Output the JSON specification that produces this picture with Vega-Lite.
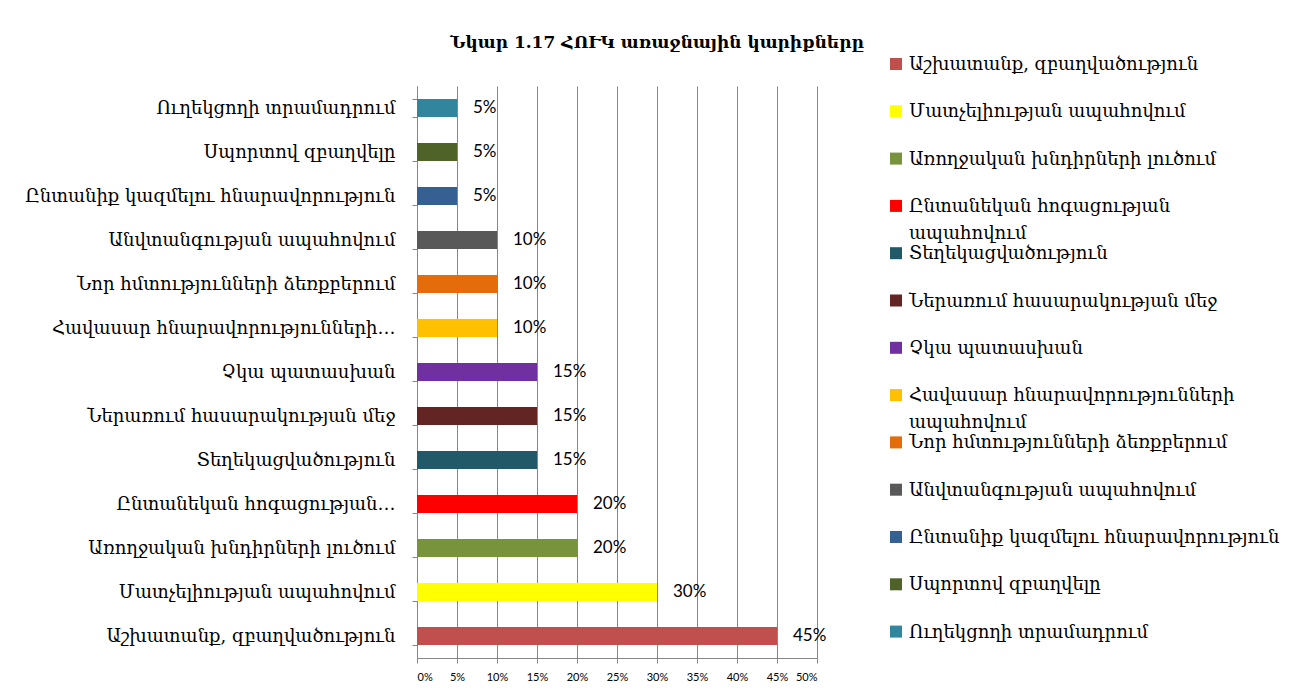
{
  "$schema": "https://vega.github.io/schema/vega-lite/v6.json",
  "autosize": "none",
  "width": 400,
  "height": 572,
  "padding": {"left": 417, "top": 86, "right": 475, "bottom": 39},
  "background": "white",
  "title": {
    "text": "Նկար 1.17 ՀՈՒԿ առաջնային կարիքները",
    "font": "DejaVu Serif",
    "fontSize": 17,
    "fontWeight": "bold",
    "color": "black",
    "anchor": "middle",
    "dx": 40,
    "offset": 3
  },
  "config": {
    "view": {"stroke": null},
    "axis": {"domainColor": "#868686", "tickColor": "#868686", "gridColor": "#868686"}
  },
  "data": {
    "values": [
      {"need": "Աշխատանք, զբաղվածություն", "value": 0.45},
      {"need": "Մատչելիության ապահովում", "value": 0.30},
      {"need": "Առողջական խնդիրների լուծում", "value": 0.20},
      {"need": "Ընտանեկան հոգացության ապահովում", "value": 0.20},
      {"need": "Տեղեկացվածություն", "value": 0.15},
      {"need": "Ներառում հասարակության մեջ", "value": 0.15},
      {"need": "Չկա պատասխան", "value": 0.15},
      {"need": "Հավասար հնարավորությունների ապահովում", "value": 0.10},
      {"need": "Նոր հմտությունների ձեռքբերում", "value": 0.10},
      {"need": "Անվտանգության ապահովում", "value": 0.10},
      {"need": "Ընտանիք կազմելու հնարավորություն", "value": 0.05},
      {"need": "Սպորտով զբաղվելը", "value": 0.05},
      {"need": "Ուղեկցողի տրամադրում", "value": 0.05}
    ]
  },
  "encoding": {
    "y": {
      "field": "need",
      "type": "nominal",
      "sort": [
        "Ուղեկցողի տրամադրում",
        "Սպորտով զբաղվելը",
        "Ընտանիք կազմելու հնարավորություն",
        "Անվտանգության ապահովում",
        "Նոր հմտությունների ձեռքբերում",
        "Հավասար հնարավորությունների ապահովում",
        "Չկա պատասխան",
        "Ներառում հասարակության մեջ",
        "Տեղեկացվածություն",
        "Ընտանեկան հոգացության ապահովում",
        "Առողջական խնդիրների լուծում",
        "Մատչելիության ապահովում",
        "Աշխատանք, զբաղվածություն"
      ],
      "scale": {"paddingInner": 0.59, "paddingOuter": 0.295},
      "axis": {
        "title": null,
        "tickBand": "extent",
        "tickSize": 5,
        "labelPadding": 17,
        "labelFont": "DejaVu Serif",
        "labelFontSize": 18,
        "labelColor": "black",
        "labelLimit": 0,
        "labelExpr": "datum.label == 'Հավասար հնարավորությունների ապահովում' ? 'Հավասար հնարավորությունների…' : datum.label == 'Ընտանեկան հոգացության ապահովում' ? 'Ընտանեկան հոգացության…' : datum.label"
      }
    },
    "x": {
      "field": "value",
      "type": "quantitative",
      "scale": {"domain": [0, 0.5], "nice": false},
      "axis": {
        "title": null,
        "values": [0, 0.05, 0.1, 0.15, 0.2, 0.25, 0.3, 0.35, 0.4, 0.45, 0.5],
        "format": ".0%",
        "grid": true,
        "tickSize": 5,
        "labelPadding": 8,
        "labelFont": "Lato",
        "labelFontSize": 11,
        "labelColor": "black"
      }
    }
  },
  "layer": [
    {
      "mark": {"type": "bar"},
      "encoding": {
        "color": {
          "field": "need",
          "type": "nominal",
          "scale": {
            "domain": [
              "Աշխատանք, զբաղվածություն",
              "Մատչելիության ապահովում",
              "Առողջական խնդիրների լուծում",
              "Ընտանեկան հոգացության ապահովում",
              "Տեղեկացվածություն",
              "Ներառում հասարակության մեջ",
              "Չկա պատասխան",
              "Հավասար հնարավորությունների ապահովում",
              "Նոր հմտությունների ձեռքբերում",
              "Անվտանգության ապահովում",
              "Ընտանիք կազմելու հնարավորություն",
              "Սպորտով զբաղվելը",
              "Ուղեկցողի տրամադրում"
            ],
            "range": ["#C0504D", "#FFFF00", "#77933C", "#FF0000", "#215968", "#632523", "#7030A0", "#FFC000", "#E46C0A", "#595959", "#366092", "#4F6228", "#31859C"]
          },
          "legend": {
            "title": null,
            "orient": "none",
            "legendX": 470,
            "legendY": -31,
            "padding": 0,
            "gridAlign": "all",
            "columns": 1,
            "symbolType": "square",
            "symbolSize": 144,
            "symbolStrokeWidth": 0,
            "symbolOpacity": 1,
            "labelOffset": 4,
            "labelFont": "DejaVu Serif",
            "labelFontSize": 18,
            "labelColor": "black",
            "labelLimit": 0,
            "labelBaseline": "alphabetic",
            "rowPadding": 1.3,
            "labelExpr": "datum.label == 'Ընտանեկան հոգացության ապահովում' ? ['Ընտանեկան հոգացության', 'ապահովում'] : datum.label == 'Հավասար հնարավորությունների ապահովում' ? ['Հավասար հնարավորությունների', 'ապահովում'] : datum.label",
            "encode": {"labels": {"update": {"dy": {"value": 6}, "lineHeight": {"value": 27}}}}
          }
        }
      }
    },
    {
      "mark": {"type": "text", "align": "left", "baseline": "middle", "dx": 16, "font": "Lato", "fontSize": 17, "color": "black"},
      "encoding": {
        "text": {"field": "value", "type": "quantitative", "format": ".0%"}
      }
    }
  ]
}
